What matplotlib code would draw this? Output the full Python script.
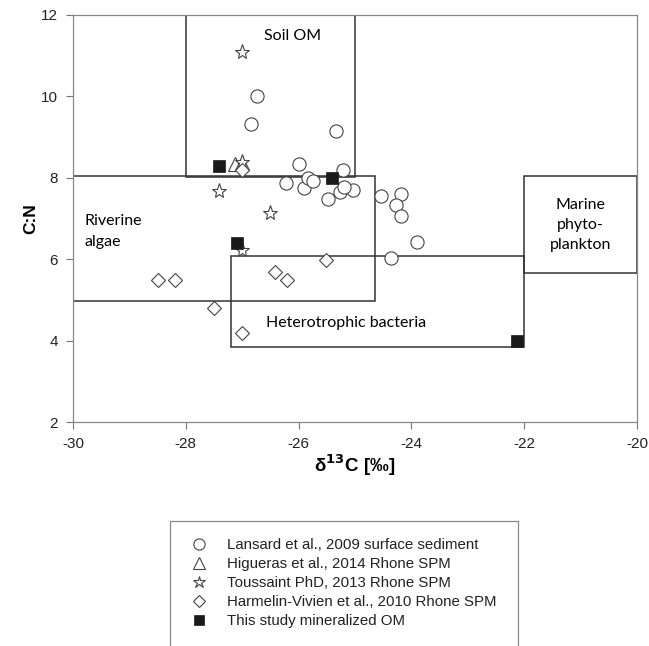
import matplotlib

matplotlib.use("Agg")
import matplotlib.pyplot as plt  # noqa: E402
from matplotlib.patches import Rectangle  # noqa: E402

plt.rcParams["axes.unicode_minus"] = False

# Lansard et al., 2009 surface sediment
lansard_d13c = [-26.73, -26.85, -25.33, -26.0, -25.22, -26.22, -25.9, -25.84, -25.74,
                -25.48, -25.27, -25.03, -25.2, -24.54, -24.18, -24.28, -24.19, -23.9, -24.36]
lansard_cn = [10.0, 9.33, 9.15, 8.33, 8.19, 7.87, 7.74, 7.99, 7.93,
              7.47, 7.64, 7.70, 7.78, 7.56, 7.59, 7.33, 7.05, 6.42, 6.03]

# Higueras et al., 2014 Rhone SPM
higueras_d13c = [-27.12, -27.0]
higueras_cn = [8.34, 8.36]

# Toussaint PhD, 2013 Rhone SPM
toussaint_d13c = [-27.0, -27.0, -27.41, -26.51, -27.0]
toussaint_cn = [11.1, 8.38, 7.68, 7.14, 6.23]

# Harmelin-Vivien et al., 2010 Rhone SPM
harmelin_d13c = [-27.0, -28.5, -28.2, -27.5, -27.0, -25.51, -26.41, -26.2]
harmelin_cn = [8.19, 5.49, 5.49, 4.8, 4.19, 5.99, 5.68, 5.48]

# This study mineralized OM
study_d13c = [-27.41, -25.4, -27.1, -22.12]
study_cn = [8.3, 7.99, 6.39, 3.98]

# source end-member boxes
box_names = ["Soil OM", "Riverine\nalgae", "Heterotrophic bacteria", "Marine\nphyto-\nplankton"]
box_x0 = [-28.0, -30.0, -27.2, -22.0]
box_x1 = [-25.0, -24.65, -22.0, -20.0]
box_y0 = [8.03, 4.98, 3.85, 5.65]
box_y1 = [12.0, 8.05, 6.08, 8.05]

W, H = 649, 646
fig = plt.figure(figsize=(W / 100, H / 100), dpi=100)
ax = fig.add_axes([73 / W, 1 - 422 / H, (637 - 73) / W, (422 - 15) / H])

label_font = "Liberation Sans"
note_font = "Lato"

for x0, x1, y0, y1 in zip(box_x0, box_x1, box_y0, box_y1):
    ax.add_patch(Rectangle((x0, y0), x1 - x0, y1 - y0, fill=False,
                           edgecolor="#333333", lw=1.1, zorder=1))

ax.text(-26.1, 11.48, box_names[0], family=note_font, fontsize=11.5, ha="center", va="center")
ax.text(-29.8, 6.68, box_names[1], family=note_font, fontsize=11.5, ha="left", va="center",
        linespacing=1.55)
ax.text(-26.58, 4.43, box_names[2], family=note_font, fontsize=11.5, ha="left", va="center")
ax.text(-21.0, 6.85, box_names[3], family=note_font, fontsize=11.5, ha="center", va="center",
        linespacing=1.55)

ec = "#444444"
ax.plot(lansard_d13c, lansard_cn, "o", ms=9.5, mfc="white", mec=ec, mew=0.8, ls="none",
        label="Lansard et al., 2009 surface sediment", zorder=3)
ax.plot(higueras_d13c, higueras_cn, "^", ms=9.5, mfc="white", mec=ec, mew=0.8, ls="none",
        label="Higueras et al., 2014 Rhone SPM", zorder=3)
ax.plot(toussaint_d13c, toussaint_cn, "*", ms=11, mfc="white", mec=ec, mew=0.8, ls="none",
        label="Toussaint PhD, 2013 Rhone SPM", zorder=3)
ax.plot(harmelin_d13c, harmelin_cn, "D", ms=7.5, mfc="white", mec=ec, mew=0.8, ls="none",
        label="Harmelin-Vivien et al., 2010 Rhone SPM", zorder=3)
ax.plot(study_d13c, study_cn, "s", ms=9, mfc="#1a1a1a", mec="#1a1a1a", mew=0.5, ls="none",
        label="This study mineralized OM", zorder=4)

ax.set_xlim(-30, -20)
ax.set_ylim(2, 12)
ax.set_xticks([-30, -28, -26, -24, -22, -20])
ax.set_yticks([2, 4, 6, 8, 10, 12])
ax.tick_params(direction="out", length=5, width=0.8, color="#777777",
               labelsize=11, labelcolor="#222222", pad=6)
for lab in ax.get_xticklabels() + ax.get_yticklabels():
    lab.set_family(label_font)
for sp in ax.spines.values():
    sp.set_color("#888888")
    sp.set_linewidth(0.9)

ax.set_xlabel("δ$^{\\mathbf{13}}$C [‰]", family=label_font, fontsize=13.5,
              fontweight="bold", labelpad=1)
ax.set_ylabel("C:N", family=label_font, fontsize=12.5, fontweight="bold", labelpad=2)

# legend with a separate frame that runs off the bottom of the figure
fig.patches.append(Rectangle((170 / W, -0.02), (518 - 170) / W, 0.02 + 1 - 521 / H,
                             transform=fig.transFigure, fill=False,
                             edgecolor="#888888", lw=0.9))
handles, labels = ax.get_legend_handles_labels()
fig.legend(handles, labels, loc="upper left", bbox_to_anchor=(184 / W, 1 - 538 / H),
           frameon=False, borderpad=0, borderaxespad=0, handletextpad=0.87,
           labelspacing=0.34, prop={"family": label_font, "size": 10.8},
           labelcolor="#222222", markerscale=0.85)

fig.savefig("out.png", dpi=100)
plt.close(fig)
